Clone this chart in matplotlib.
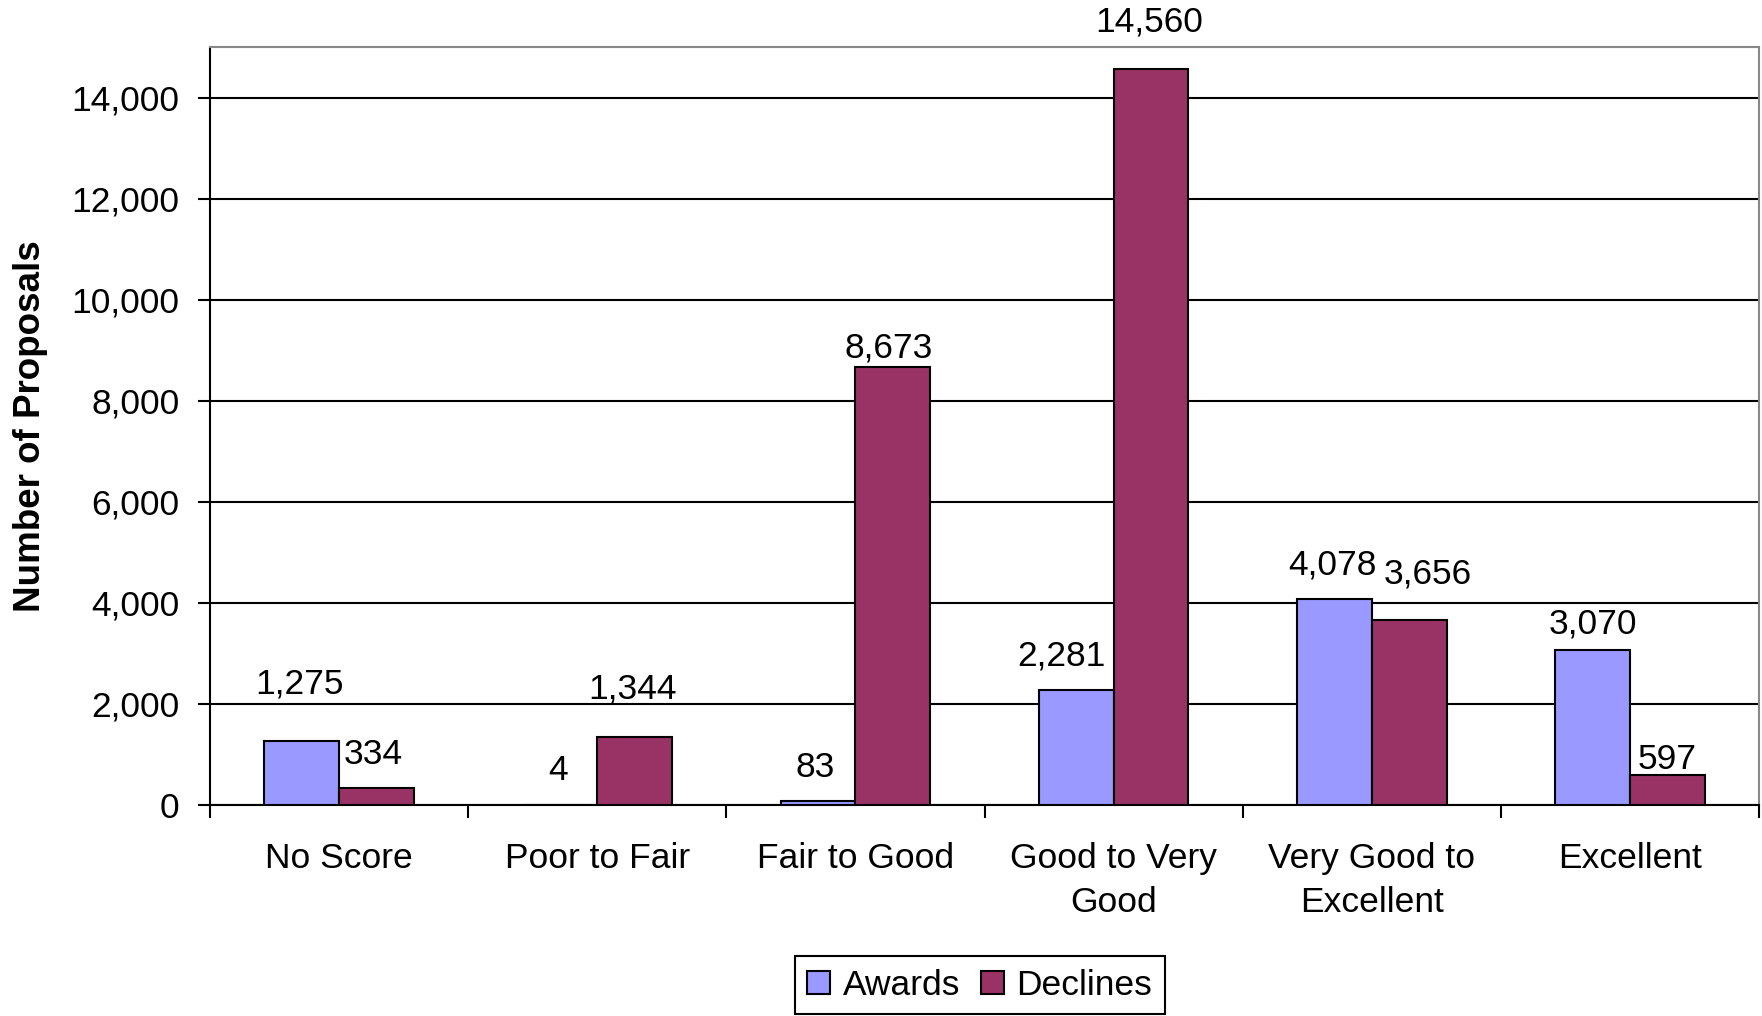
import numpy as np
import matplotlib.pyplot as plt

plt.rcParams['font.family'] = ['Liberation Sans', 'DejaVu Sans']

categories = ['No Score', 'Poor to Fair', 'Fair to Good', 'Good to Very\nGood',
              'Very Good to\nExcellent', 'Excellent']
awards = [1275, 4, 83, 2281, 4078, 3070]
declines = [334, 1344, 8673, 14560, 3656, 597]

# label nudges (pixels) so they sit roughly where the original put them
award_dy = [57, 34, 33, 34, 34, 26]
award_dx = [-2, -2, -3, -15, -2, 0]
decline_dy = [34, 48, 19, 47, 46, 15]
decline_dx = [-3, -2, -4, -2, 19, 0]

AWARD_COL = '#9999FF'
DECLINE_COL = '#993366'
FS = 25.5

fig = plt.figure(figsize=(17.62, 10.16), dpi=100)
ax = fig.add_axes([0.1192, 0.2077, 0.8791, 0.746])

x = np.arange(len(categories))
w = 0.29
b1 = ax.bar(x - w / 2, awards, w, color=AWARD_COL, edgecolor='black', linewidth=1.5, zorder=3)
b2 = ax.bar(x + w / 2, declines, w, color=DECLINE_COL, edgecolor='black', linewidth=1.5, zorder=3)

for rects, vals, dxs, dys in [(b1, awards, award_dx, award_dy), (b2, declines, decline_dx, decline_dy)]:
    for r, v, dx, dy in zip(rects, vals, dxs, dys):
        ax.annotate(f'{v:,}', (r.get_x() + r.get_width() / 2, v),
                    xytext=(dx, dy), textcoords='offset pixels',
                    ha='center', va='center', fontsize=FS, annotation_clip=False)

ax.set_xlim(-0.5, len(categories) - 0.5)
ax.set_ylim(0, 15000)
ax.set_yticks(np.arange(0, 14001, 2000))
ax.set_yticklabels([f'{v:,}' for v in range(0, 14001, 2000)], fontsize=FS)
ax.yaxis.grid(True, color='black', linewidth=1.5, zorder=0)
ax.set_axisbelow(True)

ax.set_xticks(np.arange(-0.5, len(categories)))
ax.set_xticklabels([])
ax.set_xticks(x, minor=True)
ax.set_xticklabels(categories, minor=True, fontsize=FS, linespacing=1.4)
ax.tick_params(axis='x', which='minor', length=0, pad=27)
ax.tick_params(axis='x', which='major', length=9, width=1.5, direction='out')
ax.tick_params(axis='y', length=9, width=1.5, pad=13)

ax.set_ylabel('Number of Proposals', fontsize=FS + 1, fontweight='bold', labelpad=17)

for s in ['left', 'bottom']:
    ax.spines[s].set_color('black')
    ax.spines[s].set_linewidth(1.5)
for s in ['top', 'right']:
    ax.spines[s].set_color('#888888')
    ax.spines[s].set_linewidth(1.5)

leg = fig.legend([b1, b2], ['Awards', 'Declines'], loc='upper center',
                 bbox_to_anchor=(0.556, 0.076), ncol=2, fontsize=FS,
                 fancybox=False, edgecolor='black', framealpha=1,
                 handlelength=0.65, handleheight=0.65, handletextpad=0.35,
                 columnspacing=0.6, borderpad=0.35)
leg.get_frame().set_linewidth(1.5)

fig.savefig('out.png', dpi=100)
